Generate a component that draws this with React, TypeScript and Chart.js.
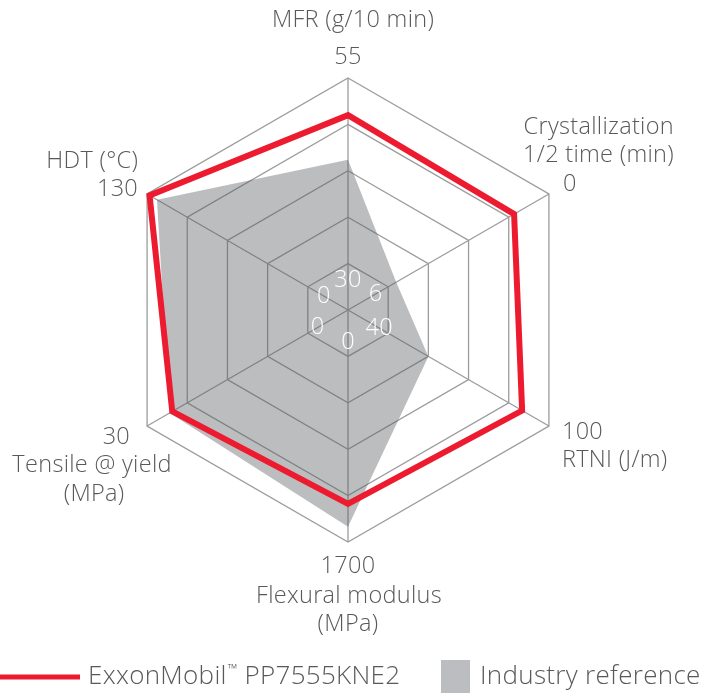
import React, { useEffect, useRef } from "react";
import { Chart, registerables } from "chart.js";

Chart.register(...registerables);

// ---- data ----
const axisNames = ["MFR", "Crystallization 1/2 time", "RTNI", "Flexural modulus", "Tensile @ yield", "HDT"];
const axisMin = [30, 6, 40, 0, 0, 0];
const axisMax = [55, 0, 100, 1700, 30, 130];
const exxonValues = [50, 1.3, 90, 1350, 25.3, 128];
const industryValues = [44, 5.7, 55, 1560, 25.8, 122];
const minLabels = ["30", "6", "40", "0", "0", "0"];
const maxLabels = ["55", "0", "100", "1700", "30", "130"];
const axisTitles = [
  ["MFR (g/10 min)"],
  ["Crystallization", "1/2 time (min)"],
  ["RTNI (J/m)"],
  ["Flexural modulus", "(MPa)"],
  ["Tensile @ yield", "(MPa)"],
  ["HDT (°C)"],
];
const seriesNames = ["ExxonMobil™ PP7555KNE2", "Industry reference"];

// ---- styles / layout ----
const RED = "#ed1b2f";
const GREY_FILL = "rgba(88,89,95,0.4)";
const LEGEND_GREY = "#bcbdc1";
const TEXT = "#58595b";
const FONT = "'Open Sans', 'DejaVu Sans', sans-serif";
const LABEL_FONT = `300 23.5px ${FONT}`;
const LEGEND_FONT = `300 26px ${FONT}`;

// offsets of [max label, title lines] from outer vertex
type Lbl = { dx: number; dy: number; align: CanvasTextAlign };
const maxLabelLayout: Lbl[] = [
  { dx: 0, dy: -21, align: "center" },
  { dx: 21, dy: -10, align: "center" },
  { dx: 13, dy: 6, align: "left" },
  { dx: 0, dy: 24, align: "center" },
  { dx: -17, dy: 11, align: "right" },
  { dx: -9, dy: -5, align: "right" },
];
const titleLayout: Lbl[][] = [
  [{ dx: 5, dy: -58, align: "center" }],
  [
    { dx: 125, dy: -67, align: "right" },
    { dx: 125, dy: -39, align: "right" },
  ],
  [{ dx: 13, dy: 34, align: "left" }],
  [
    { dx: 1, dy: 54, align: "center" },
    { dx: 0, dy: 82, align: "center" },
  ],
  [
    { dx: -55, dy: 39, align: "center" },
    { dx: -53, dy: 68, align: "center" },
  ],
  [{ dx: -9, dy: -33, align: "right" }],
];
const minLabelRadius = [30, 32, 36, 32, 35, 28];

const toRing = (v: number, i: number) => 1 + (4 * (v - axisMin[i])) / (axisMax[i] - axisMin[i]);

const labelPlugin = {
  id: "customLabels",
  afterDraw(chart: any) {
    const ctx: any = chart.ctx;
    const scale = chart.scales.r;
    ctx.save();
    ctx.textBaseline = "middle";
    ctx.letterSpacing = "0.3px";
    // inner min labels
    ctx.fillStyle = "#ffffff";
    ctx.font = LABEL_FONT;
    ctx.textAlign = "center";
    minLabels.forEach((t, i) => {
      const p = scale.getPointPosition(i, minLabelRadius[i]);
      ctx.fillText(t, p.x, p.y);
    });
    // outer labels
    ctx.fillStyle = TEXT;
    axisNames.forEach((_, i) => {
      const v = scale.getPointPosition(i, scale.drawingArea);
      const m = maxLabelLayout[i];
      ctx.textAlign = m.align;
      ctx.fillText(maxLabels[i], v.x + m.dx, v.y + m.dy);
      axisTitles[i].forEach((line, j) => {
        const l = titleLayout[i][j];
        ctx.textAlign = l.align;
        ctx.fillText(line, v.x + l.dx, v.y + l.dy);
      });
    });
    // legend
    const ly = 677;
    ctx.strokeStyle = RED;
    ctx.lineWidth = 5;
    ctx.beginPath();
    ctx.moveTo(0, ly);
    ctx.lineTo(80, ly);
    ctx.stroke();
    ctx.textAlign = "left";
    ctx.font = LEGEND_FONT;
    const parts = seriesNames[0].split("™");
    let x = 88;
    ctx.fillText(parts[0], x, ly);
    x += ctx.measureText(parts[0]).width + 1;
    ctx.font = `300 13px ${FONT}`;
    ctx.fillText("™", x, ly - 8);
    x += ctx.measureText("™").width;
    ctx.font = LEGEND_FONT;
    ctx.fillText(parts[1], x, ly);
    ctx.fillStyle = LEGEND_GREY;
    ctx.fillRect(441, 660, 29, 33);
    ctx.fillStyle = TEXT;
    ctx.fillText(seriesNames[1], 480, ly);
    ctx.restore();
  },
};

export default function App() {
  const ref = useRef<HTMLCanvasElement>(null);
  useEffect(() => {
    document.body.style.margin = "0";
    const chart = new Chart(ref.current as HTMLCanvasElement, {
      type: "radar",
      data: {
        labels: axisNames,
        datasets: [
          {
            label: seriesNames[0],
            data: exxonValues.map(toRing),
            borderColor: RED,
            backgroundColor: "transparent",
            borderWidth: 6,
            fill: false,
            pointRadius: 0,
            borderJoinStyle: "miter",
          },
          {
            label: seriesNames[1],
            data: industryValues.map(toRing),
            backgroundColor: GREY_FILL,
            borderWidth: 0,
            borderColor: "transparent",
            fill: "origin",
            pointRadius: 0,
          },
        ],
      },
      options: {
        responsive: false,
        animation: false,
        layout: { padding: { left: 116, right: 136, top: 78, bottom: 151 } },
        plugins: { legend: { display: false }, tooltip: { enabled: false } },
        scales: {
          r: {
            min: 0,
            max: 5,
            ticks: { display: false, stepSize: 1 },
            pointLabels: { display: false },
            grid: { color: "#9c9c9c", lineWidth: 1.3 },
            angleLines: { color: "#9c9c9c", lineWidth: 1.3 },
          },
        },
      } as any,
      plugins: [labelPlugin],
    });
    return () => chart.destroy();
  }, []);
  return <canvas ref={ref} width={716} height={693} style={{ display: "block" }} />;
}
